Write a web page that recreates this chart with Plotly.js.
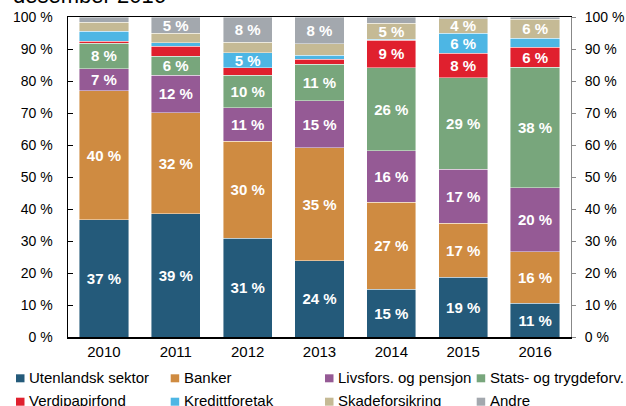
<!DOCTYPE html>
<html>
<head>
<meta charset="utf-8">
<script src="https://cdn.plot.ly/plotly-3.0.1.min.js"></script>
<style>
html,body{margin:0;padding:0;background:#fff;}
#chart{width:626px;height:406px;}
</style>
</head>
<body>
<div id="chart"></div>
<script>
var years = ['2010','2011','2012','2013','2014','2015','2016'];
var seriesNames = ['Utenlandsk sektor','Banker','Livsfors. og pensjon','Stats- og trygdeforv.','Verdipapirfond','Kredittforetak','Skadeforsikring','Andre'];
var seriesColors = ['#245A7A','#CF8B41','#955A95','#78A67C','#E0202E','#4DB6E4','#C5BA95','#A3A8AE'];
var utenlandsk = [36.7, 38.5, 30.8, 23.8, 14.9, 18.6, 10.5];
var banker     = [40.3, 31.6, 30.4, 35.4, 27.2, 16.9, 16.1];
var livsfors   = [ 6.9, 11.7, 10.5, 14.7, 16.1, 16.9, 20.1];
var stats      = [ 7.85, 5.9, 10.1, 11.4, 26.0, 28.6, 37.6];
var verdipapir = [ 0.75, 3.2,  2.3,  1.45, 8.6,  7.6,  6.3];
var kreditt    = [ 3.0,  1.0,  4.7,  1.25, 0.2,  6.4,  2.8];
var skade      = [ 2.8,  3.0,  3.3,  3.6,  5.1,  4.4,  5.9];
var andre      = [ 1.7,  5.1,  7.9,  8.4,  1.9,  0.6,  0.7];
var allSeries = [utenlandsk, banker, livsfors, stats, verdipapir, kreditt, skade, andre];
var titleText = 'desember 2016';

var FONT = '"Liberation Sans", Arial, sans-serif';
var W = 626, H = 406, L = 68, R = 571, T = 17, B = 337;
function px(x){ return (x - L) / (R - L); }
function py(y){ return (B - y) / (B - T); }

var traces = allSeries.map(function(vals, i){
  return {
    type: 'bar',
    name: seriesNames[i],
    x: years,
    y: vals,
    marker: {color: seriesColors[i], line: {color: 'rgba(255,255,255,0.55)', width: 0.8}},
    text: vals.map(function(v){ return v >= 4 ? Math.round(v) + ' %' : ''; }),
    textposition: 'inside',
    insidetextanchor: 'middle',
    textangle: 0,
    constraintext: 'none',
    textfont: {family: FONT, size: 15, color: '#fff', weight: 'bold'},
    showlegend: false,
    hoverinfo: 'none'
  };
});
// invisible trace on right axis to show it
traces.push({type:'scatter', x: years, y: years.map(function(){return null;}), yaxis:'y2', showlegend:false, hoverinfo:'none'});

var annotations = [{
  xref:'paper', yref:'paper', x: px(11), y: py(10), xanchor:'left', yanchor:'bottom',
  text: titleText, showarrow:false, font:{family:FONT, size:22, color:'#000'}
}];
var shapes = [];
var colX = [16, 170.7, 325, 476.7];
var rowY = [374.3, 397.7];
seriesNames.forEach(function(n, i){
  var c = i % 4, r = Math.floor(i / 4);
  var x0 = colX[c], y0 = rowY[r];
  shapes.push({type:'rect', xref:'paper', yref:'paper', x0:px(x0), x1:px(x0+8.5), y0:py(y0+8), y1:py(y0), fillcolor:seriesColors[i], line:{width:0}});
  annotations.push({xref:'paper', yref:'paper', x:px(x0+11), y:py(y0+3), xanchor:'left', yanchor:'middle',
    text:n, showarrow:false, font:{family:FONT, size:15, color:'#000'}});
});

var layout = {
  width: W, height: H,
  margin: {l: L, r: W - R, t: T, b: H - B, pad: 0},
  paper_bgcolor: '#fff', plot_bgcolor: '#fff',
  barmode: 'stack',
  bargap: 0.315,
  font: {family: FONT, size: 15, color: '#000'},
  xaxis: {
    type: 'category', range: [-0.5, 6.5],
    showline: true, linecolor: '#000', linewidth: 1.5, mirror: true,
    ticks: '', showgrid: false, zeroline: false,
    tickfont: {family: FONT, size: 15, color: '#000'}
  },
  yaxis: {
    range: [0, 100], dtick: 10, ticksuffix: ' %',
    showline: true, linecolor: '#000', linewidth: 1.5,
    ticks: 'inside', ticklen: 5, tickcolor: '#000', tickwidth: 1,
    showgrid: false, zeroline: false, ticklabelstandoff: 11,
    tickfont: {family: FONT, size: 14, color: '#000'}
  },
  yaxis2: {
    range: [0, 100], dtick: 10, ticksuffix: ' %', overlaying: 'y', side: 'right',
    showline: true, linecolor: '#888', linewidth: 1,
    ticks: 'outside', ticklen: 4, tickcolor: '#888', tickwidth: 1,
    showgrid: false, zeroline: false, ticklabelstandoff: 6,
    tickfont: {family: FONT, size: 14, color: '#000'}
  },
  shapes: shapes,
  annotations: annotations
};

Plotly.newPlot('chart', traces, layout, {staticPlot: true, displayModeBar: false});
</script>
</body>
</html>
